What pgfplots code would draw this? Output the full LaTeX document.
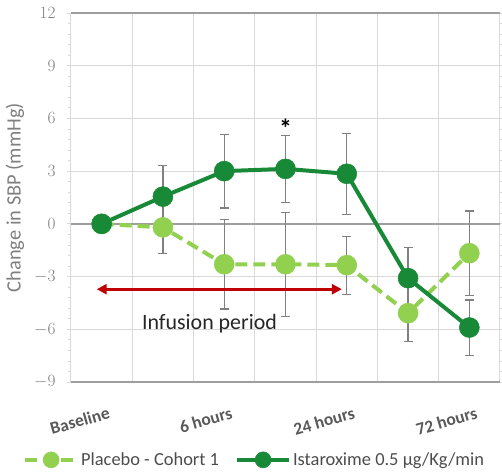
\documentclass[border=0pt]{standalone}
\usepackage{pgfplots}
\pgfplotsset{compat=1.18}
\usepackage{fontspec}
\setmainfont{Carlito}
\usetikzlibrary{arrows.meta}

\definecolor{dkgreen}{RGB}{24,137,55}
\definecolor{ltgreen}{RGB}{146,208,80}
\definecolor{errgray}{RGB}{128,128,128}
\definecolor{gridgray}{RGB}{217,217,217}
\definecolor{txtgray}{RGB}{127,127,127}
\definecolor{arrowred}{RGB}{192,0,0}

% x: 0 = Baseline ... 6 = 72 hours
\pgfplotstableread{
x   y      e
0   0      0
1   -0.2   1.5
2   -2.3   2.55
3   -2.3   2.95
4   -2.35  1.65
5   -5.08  1.6
6   -1.67  2.4
}\placebo
\pgfplotstableread{
x   y      e
0   0      0
1   1.55   1.75
2   3.0    2.1
3   3.13   1.9
4   2.85   2.3
5   -3.09  1.75
6   -5.9   1.57
}\istar

\begin{document}
\begin{tikzpicture}
\begin{axis}[
    at={(0,0)}, anchor=south west,
    scale only axis, width=429bp, height=369bp,
    xmin=-0.5, xmax=6.5, ymin=-9, ymax=12,
    axis line style={draw=none},
    xtick={0,2,4,6},
    xticklabels={Baseline,6 hours,24 hours,72 hours},
    minor xtick={-0.5,0.5,...,6.5},
    xminorgrids=true, xmajorgrids=false,
    ytick={-9,-6,...,12},
    minor y tick num=4,
    ymajorgrids=true,
    major grid style={gridgray, line width=1bp},
    minor grid style={gridgray, line width=1bp},
    x tick style={draw=none},
    minor x tick style={draw=none},
    y tick style={draw=gridgray, line width=0.8bp},
    tick align=outside,
    major tick length=4bp, minor tick length=3bp,
    extra y ticks={-9,0,12},
    extra y tick labels={},
    extra y tick style={grid=major, major grid style={draw=black!38, line width=1.3bp}, tick style={draw=none}},
    yticklabel style={font=\fontsize{18}{20}\selectfont, text=txtgray, xshift=-8bp},
    xticklabel style={font=\bfseries\fontsize{17.5}{20}\selectfont, text=black!65, rotate=16, anchor=north east, inner sep=0pt, yshift=-21bp},
    ylabel={Change in SBP (mmHg)},
    ylabel style={font=\fontsize{20.5}{22}\selectfont, text=txtgray, at={(axis description cs:-0.1305,0.5)}, anchor=center},
    legend style={at={(axis description cs:-0.119,-0.211)}, anchor=west, draw=none, fill=none,
        font=\fontsize{18.5}{20}\selectfont, text=black!70, legend columns=2,
        /tikz/every even column/.append style={column sep=14bp}},
    legend image code/.code={\draw[mark repeat=2, mark phase=2, #1, mark size=8bp] plot coordinates {(0bp,0bp) (26bp,0bp) (52bp,0bp)};},
    clip=false,
]
% error bars first, behind lines and markers
\addplot[draw=none, mark=none, forget plot,
    error bars/.cd, y dir=both, y explicit,
    error bar style={draw=errgray, line width=1.2bp, solid},
    error mark options={draw=errgray, rotate=90, mark size=4.5bp, line width=1.2bp, solid}]
    table[x=x, y=y, y error=e] {\placebo};
\addplot[draw=none, mark=none, forget plot,
    error bars/.cd, y dir=both, y explicit,
    error bar style={draw=errgray, line width=1.2bp, solid},
    error mark options={draw=errgray, rotate=90, mark size=4.5bp, line width=1.2bp, solid}]
    table[x=x, y=y, y error=e] {\istar};

\addplot[ltgreen, line width=4bp, dash pattern=on 12bp off 6bp,
    mark=*, mark size=10bp, mark options={solid, fill=ltgreen, draw=ltgreen, line width=0.5bp}]
    table[x=x, y=y] {\placebo};
\addlegendentry{Placebo - Cohort 1}
\addplot[dkgreen, line width=4bp,
    mark=*, mark size=10bp, mark options={solid, fill=dkgreen, draw=dkgreen, line width=0.5bp}]
    table[x=x, y=y] {\istar};
\addlegendentry{Istaroxime 0.5 µg/Kg/min}

\draw[arrowred, line width=3bp, {Triangle[length=10bp,width=10bp]}-{Triangle[length=10bp,width=10bp]}]
    (axis cs:-0.08,-3.72) -- (axis cs:3.92,-3.72);
\node[font=\fontsize{22}{24}\selectfont, text=black!85] at (axis cs:1.76,-5.69) {Infusion period};
\node[font=\bfseries\fontsize{26}{28}\selectfont] at (axis cs:3,5.45) {*};
\end{axis}
\pgfresetboundingbox
\path[use as bounding box] (-71bp,-93bp) rectangle (431bp,382bp);
\end{tikzpicture}
\end{document}
